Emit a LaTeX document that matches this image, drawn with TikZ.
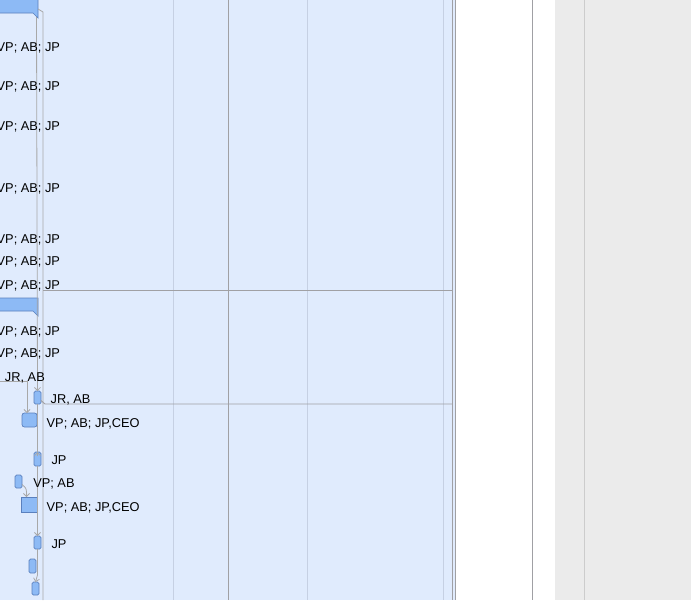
\documentclass[tikz,border=0pt]{standalone}
\usepackage{fontspec}
\setmainfont{Liberation Sans}
\usetikzlibrary{arrows.meta}
\definecolor{bgblue}{HTML}{E0EBFD}
\definecolor{panelgray}{HTML}{EBEBEB}
\definecolor{gridlight}{HTML}{C6D0E3}
\definecolor{griddark}{HTML}{A0A0A4}
\definecolor{panelline}{HTML}{CCCCCC}
\definecolor{hdrfill}{HTML}{8DBAF5}
\definecolor{hdrdraw}{HTML}{5A80BE}
\definecolor{conn}{HTML}{A8A8A8}
\begin{document}
\begin{tikzpicture}[x=1pt,y=-1pt,
  every node/.style={inner sep=0pt,outer sep=0pt},
  lbl/.style={font=\fontsize{12.8}{14}\selectfont,text=black},
  task/.style={draw=hdrdraw,fill=hdrfill,line width=0.7pt,rounded corners=1.5pt},
  hdr/.style={draw=hdrdraw,fill=hdrfill,line width=0.7pt},
  cn/.style={draw=conn,line width=0.8pt},
  arr/.style={cn,-{Straight Barb[length=3pt,width=6pt]}},
  gl/.style={draw=gridlight,line width=0.8pt},
  gd/.style={draw=griddark,line width=0.9pt}]
\useasboundingbox (0,0) rectangle (691,600);
\clip (0,0) rectangle (691,600);
% backgrounds
\fill[bgblue] (0,0) rectangle (455,600);
\fill[white] (455,0) rectangle (555,600);
\fill[panelgray] (555,0) rectangle (691,600);
% grid lines
\draw[gl] (173.3,0) -- (173.3,600);
\draw[gd] (228.3,0) -- (228.3,600);
\draw[gl] (307.3,0) -- (307.3,600);
\draw[gl] (443.3,0) -- (443.3,600);
\draw[gd] (452.3,0) -- (452.3,600);
\draw[gd] (455.3,0) -- (455.3,600);
\draw[gd] (532.3,0) -- (532.3,600);
\draw[draw=panelline,line width=0.9pt] (584.3,0) -- (584.3,600);
% headers
\draw[hdr] (-5,-2) -- (38,-2) -- (38,18) -- (33,13) -- (-5,13) -- cycle;
\draw[hdr] (-5,298) -- (38,298) -- (38,316) -- (33,311) -- (-5,311) -- cycle;
\coordinate (h1) at (38,9);
\coordinate (h1b) at (36.5,17);
\coordinate (bot43) at (43,600);
\coordinate (r290a) at (43,290);
\coordinate (r290b) at (452.3,290);
% task nodes
\node[task,minimum width=7pt,minimum height=13pt] (A) at (37.5,397.5) {};
\node[task,minimum width=15pt,minimum height=14pt,rounded corners=2.5pt] (B) at (29.5,420) {};
\node[task,minimum width=7pt,minimum height=14pt] (C) at (37.5,459) {};
\node[task,minimum width=7pt,minimum height=13pt] (D) at (18.5,481.5) {};
\node[task,minimum width=16pt,minimum height=15pt,rounded corners=0pt] (E) at (29,504.5) {};
\node[task,minimum width=7pt,minimum height=13pt] (F) at (37.5,542.5) {};
\node[task,minimum width=7pt,minimum height=14pt] (G) at (32.5,566) {};
\node[task,minimum width=7pt,minimum height=13pt] (H) at (35.5,588.5) {};
% connectors
\draw[cn] (h1) -- (43,12) -- (bot43);
\draw[arr] (h1b) -- (A.north);
\draw[cn] (A.south) -- (C.north);
\draw[arr] ([yshift=-4pt]C.north) -- (C.north);
\draw[arr] (C.south) -- (F.north);
\draw[arr] (F.south) -- (37.5,575) -- (H.north);
\draw[gd] (r290a) -- (r290b);
\draw[gd] ([yshift=-3pt]A.east) -- (45,404) -- (452.3,404);
\coordinate (jrl) at (-5,381);
\draw[arr] (jrl) -| ([xshift=-2.5pt]B.north);
\draw[arr] ([yshift=-3pt]D.east) .. controls (26,488) .. (26.5,492) -- ([xshift=-2.5pt]E.north);
% labels
\foreach \yy in {51.7,90.7,130,192,243.5,265.5,289,335.5,357.5}
  \node[lbl,anchor=base east] at (60,\yy) {VP; AB; JP};
\node[lbl,anchor=base west] (l1) at (5,381.5) {JR, AB};
\node[lbl,anchor=base west] (l2) at (50.7,403.5) {JR, AB};
\node[lbl,anchor=base west] (l3) at (46.7,427) {VP; AB; JP,CEO};
\node[lbl,anchor=base west] (l4) at (51.5,464.5) {JP};
\node[lbl,anchor=base west] (l5) at (33.3,487) {VP; AB};
\node[lbl,anchor=base west] (l6) at (46.7,511) {VP; AB; JP,CEO};
\node[lbl,anchor=base west] (l7) at (51.5,548) {JP};
\end{tikzpicture}
\end{document}
